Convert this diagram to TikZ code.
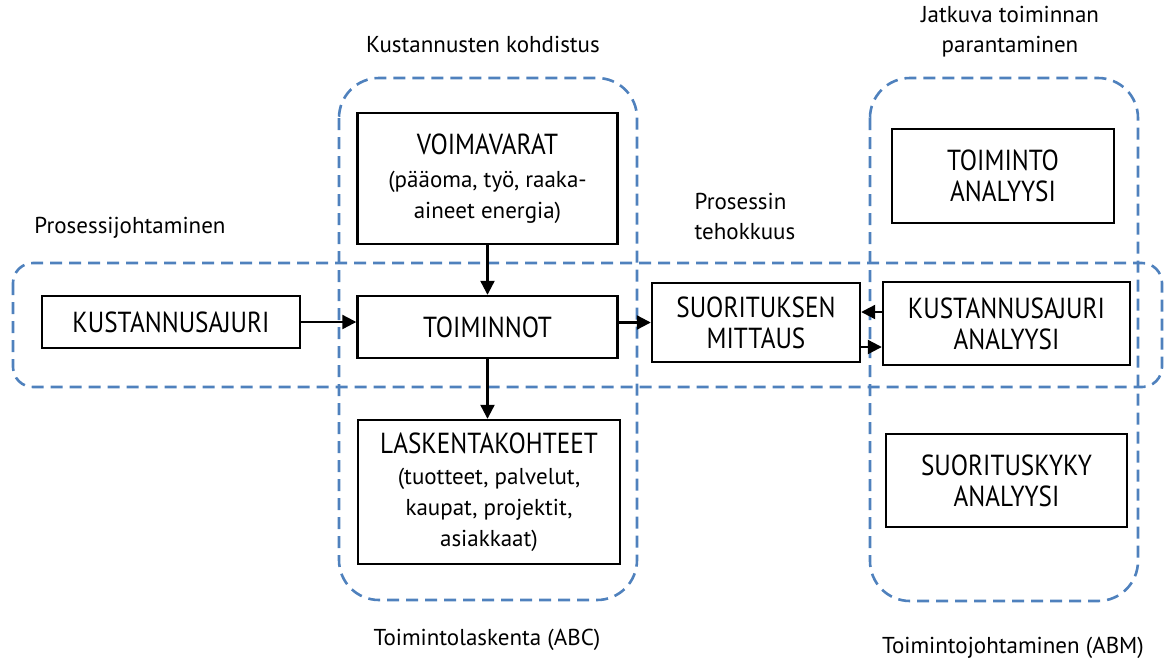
\documentclass[tikz,border=0pt]{standalone}
\usepackage{fontspec}
\setmainfont{PT Sans}
\newfontfamily\boxfont[FakeStretch=0.87]{PT Sans}
\usetikzlibrary{positioning,arrows.meta}
\definecolor{dashblue}{HTML}{4F81BD}
\newcommand{\subtxt}{\normalfont\fontsize{11.5}{16.5}\selectfont}

\begin{document}
\begin{tikzpicture}[x=0.5pt,y=-0.5pt,
    box/.style={draw, line width=1.2pt, align=center, inner sep=0pt,
        font=\boxfont\fontsize{14.5}{15.5}\selectfont},
    group/.style={draw=dashblue, line width=1.3pt, dash pattern=on 6pt off 3.5pt},
    flow/.style={-{Triangle[length=7pt,width=7pt]}, line width=1.1pt},
    lbl/.style={align=center, font=\fontsize{11.5}{15}\selectfont}]
    \useasboundingbox (0,0) rectangle (1164,660);

    % Dashed groups
    \draw[group, rounded corners=20pt] (339,78) rectangle (637,600);
    \draw[group, rounded corners=20pt] (870,78) rectangle (1138,601);
    \draw[group, rounded corners=10pt] (13,263) rectangle (1162,387);

    % Group labels
    \node[lbl] (abcTop) at (483,44) {Kustannusten kohdistus};
    \node[lbl] (abmTop) at (1010,32) {Jatkuva toiminnan\\parantaminen};
    \node[lbl] (procLbl) at (130,228) {Prosessijohtaminen};
    \node[lbl, align=left] (effLbl) at (745,216) {Prosessin\\tehokkuus};
    \node[lbl] (abcBot) at (487,640) {Toimintolaskenta (ABC)};
    \node[lbl] (abmBot) at (1013,648) {Toimintojohtaminen (ABM)};

    % Boxes
    \node[box, minimum width=130pt, minimum height=65.5pt] (voim) at (487.5,178.5)
        {VOIMAVARAT\\[1pt]{\subtxt (pääoma, työ, raaka-}\\{\subtxt aineet energia)}};
    \node[box, minimum width=130pt, minimum height=31pt] (toim) at (487.5,327) {TOIMINNOT};
    \node[box, minimum width=131pt, minimum height=72pt] (lask) at (489,492)
        {LASKENTAKOHTEET\\{\subtxt (tuotteet, palvelut,}\\{\subtxt kaupat, projektit,}\\{\subtxt asiakkaat)}};
    \node[box, minimum width=129pt, minimum height=26pt] (kaj) at (171,322) {KUSTANNUSAJURI};
    \node[box, minimum width=104pt, minimum height=39.5pt] (suor) at (756,322.5) {SUORITUKSEN\\MITTAUS};
    \node[box, minimum width=123.5pt, minimum height=41.5pt] (kaja) at (1006.5,323.5) {KUSTANNUSAJURI\\ANALYYSI};
    \node[box, minimum width=111pt, minimum height=47pt] (tana) at (1003,176) {TOIMINTO\\ANALYYSI};
    \node[box, minimum width=120.5pt, minimum height=46.5pt] (sana) at (1006.5,480.5) {SUORITUSKYKY\\ANALYYSI};

    % Arrows
    \draw[flow] (voim) -- (toim);
    \draw[flow] (toim) -- (lask.north -| toim.south);
    \draw[flow] (kaj.east) -- (kaj.east -| toim.west);
    \draw[flow] (toim.east |- suor.west) -- (suor.west);
    \draw[flow] ([yshift=5.75pt]kaja.west) -- ([yshift=5.75pt]kaja.west -| suor.east);
    \draw[flow] ([yshift=-12.25pt]suor.east) -- ([yshift=-12.25pt]suor.east -| kaja.west);
\end{tikzpicture}
\end{document}
